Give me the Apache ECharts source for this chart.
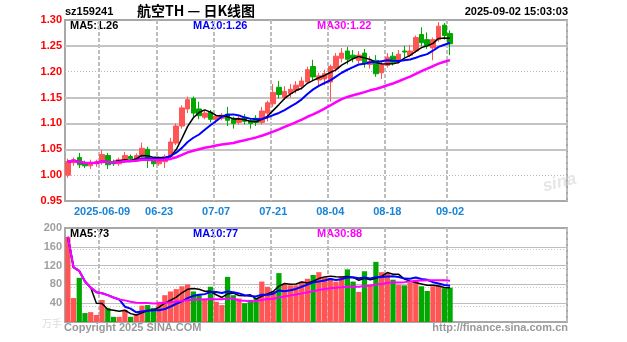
<!DOCTYPE html>
<html>
<head>
<meta charset="utf-8">
<script src="https://cdn.jsdelivr.net/npm/echarts@6/dist/echarts.min.js"></script>
<style>
html,body{margin:0;padding:0;background:#fff;}
#chart{width:627px;height:342px;}
</style>
</head>
<body>
<div id="chart"></div>
<script>
// Daily K-line of sz159241 with volume panel
const dates = ['2025-05-29','2025-05-30','2025-06-03','2025-06-04','2025-06-05','2025-06-06','2025-06-09','2025-06-10','2025-06-11','2025-06-12','2025-06-13','2025-06-16','2025-06-17','2025-06-18','2025-06-19','2025-06-20','2025-06-23','2025-06-24','2025-06-25','2025-06-26','2025-06-27','2025-06-30','2025-07-01','2025-07-02','2025-07-03','2025-07-04','2025-07-07','2025-07-08','2025-07-09','2025-07-10','2025-07-11','2025-07-14','2025-07-15','2025-07-16','2025-07-17','2025-07-18','2025-07-21','2025-07-22','2025-07-23','2025-07-24','2025-07-25','2025-07-28','2025-07-29','2025-07-30','2025-07-31','2025-08-01','2025-08-04','2025-08-05','2025-08-06','2025-08-07','2025-08-08','2025-08-11','2025-08-12','2025-08-13','2025-08-14','2025-08-15','2025-08-18','2025-08-19','2025-08-20','2025-08-21','2025-08-22','2025-08-25','2025-08-26','2025-08-27','2025-08-28','2025-08-29','2025-09-01','2025-09-02'];

const opens = [1.000,1.024,1.034,1.024,1.018,1.022,1.024,1.038,1.026,1.022, 1.028,1.036,1.030,1.036,1.050,1.030,1.022,1.026,1.036,1.062, 1.095,1.128,1.148,1.128,1.112,1.122,1.108,1.110,1.118,1.110, 1.102,1.112,1.106,1.110,1.102,1.120,1.138,1.170,1.150,1.158, 1.164,1.172,1.180,1.210,1.184,1.186,1.180,1.206,1.226,1.240, 1.232,1.222,1.236,1.214,1.222,1.198,1.212,1.230,1.220,1.240, 1.232,1.240,1.272,1.262,1.246,1.262,1.290,1.274];
const closes = [1.026,1.030,1.020,1.018,1.024,1.026,1.040,1.020,1.022,1.030, 1.038,1.032,1.038,1.052,1.028,1.022,1.030,1.036,1.064,1.095, 1.130,1.146,1.120,1.115,1.120,1.108,1.114,1.116,1.106,1.100, 1.110,1.104,1.100,1.102,1.124,1.140,1.160,1.156,1.162,1.166, 1.174,1.182,1.204,1.190,1.192,1.196,1.210,1.230,1.236,1.224, 1.226,1.232,1.216,1.220,1.196,1.214,1.228,1.218,1.234,1.238, 1.240,1.266,1.256,1.250,1.262,1.288,1.270,1.254];
const lows = [0.995,1.018,1.014,1.014,1.012,1.016,1.020,1.012,1.018,1.018, 1.024,1.028,1.026,1.034,1.014,1.016,1.018,1.014,1.030,1.058, 1.090,1.120,1.112,1.108,1.108,1.102,1.100,1.106,1.095,1.090, 1.098,1.098,1.090,1.095,1.098,1.104,1.132,1.148,1.145,1.150, 1.158,1.165,1.176,1.182,1.170,1.174,1.142,1.200,1.218,1.214, 1.218,1.216,1.208,1.206,1.190,1.186,1.208,1.212,1.216,1.228, 1.228,1.236,1.250,1.244,1.222,1.258,1.262,1.232];
const highs = [1.032,1.034,1.043,1.028,1.030,1.030,1.049,1.043,1.030,1.034, 1.045,1.040,1.042,1.063,1.055,1.034,1.036,1.040,1.072,1.100, 1.135,1.152,1.152,1.142,1.126,1.126,1.118,1.120,1.132,1.113, 1.115,1.118,1.110,1.116,1.132,1.144,1.176,1.182,1.172,1.176, 1.182,1.190,1.210,1.223,1.198,1.204,1.214,1.236,1.246,1.248, 1.242,1.240,1.244,1.230,1.232,1.220,1.236,1.238,1.242,1.250, 1.252,1.270,1.286,1.276,1.266,1.296,1.294,1.280];
// volume, in 10k lots
const volumes = [181,51,94,19,21,15,47,30,11,11, 26,11,15,35,36,30,43,57,65,70, 76,80,65,57,50,75,43,36,96,57, 50,40,47,51,86,75,65,104, 80,78,78,86,92,100,106,96,94,86,96,112,86,64,108,80,128,106,104,90, 79,78,84,88,76,66,76,78,72,73];

const tickDates = ['2025-06-09','2025-06-23','2025-07-07','2025-07-21','2025-08-04','2025-08-18','2025-09-02'];
const priceTicks = [0.95,1.00,1.05,1.10,1.15,1.20,1.25,1.30];
const dottedPriceLevels = [1.00,1.20];
const volumeTicks = [40,80,120,160,200];
const blankSlots = 20;

const RED = '#ff5555', GREEN = '#00a800';
const FONT = 'Liberation Sans, Arial, sans-serif';

function movingAvg(arr, n) {
  return arr.map((_, i) => {
    const s = Math.max(0, i - n + 1);
    let sum = 0;
    for (let k = s; k <= i; k++) sum += arr[k];
    return sum / (i - s + 1);
  });
}

const categories = dates.concat(Array.from({length: blankSlots}, (_, k) => 'slot' + k));
const kData = dates.map((d, i) => [opens[i], closes[i], lows[i], highs[i]]);
const ma5 = movingAvg(closes, 5), ma10 = movingAvg(closes, 10), ma30 = movingAvg(closes, 30);
const vma5 = movingAvg(volumes, 5), vma10 = movingAvg(volumes, 10), vma30 = movingAvg(volumes, 30);
const last = dates.length - 1;
const volData = volumes.map((v, i) => ({
  value: v,
  itemStyle: {color: closes[i] >= opens[i] ? RED : GREEN}
}));

const isTick = (idx, val) => tickDates.indexOf(val) >= 0;

const priceLines = priceTicks.slice(1, -1).map(p => ({
  yAxis: p,
  lineStyle: dottedPriceLevels.indexOf(p) >= 0
    ? {type: [1, 2], color: '#b8b8b8', width: 1}
    : {type: 'solid', color: '#c4c4c4', width: 2}
}));
const volLines = [];
volumeTicks.slice(0, -1).forEach(v => {
  volLines.push({yAxis: v, lineStyle: {type: 'solid', color: '#bdbdbd', width: 1}});
  volLines.push({yAxis: v - 6, lineStyle: {type: [1, 2], color: '#c8c8c8', width: 1}});
});

function maLine(name, data, color, width, xi, yi) {
  return {
    name, type: 'line', data, xAxisIndex: xi, yAxisIndex: yi,
    symbol: 'none', smooth: false, silent: true,
    lineStyle: {color, width}, z: 5
  };
}

function txt(x, y, text, color, size, align, weight) {
  return {
    type: 'text', x, y, silent: true,
    style: {text, fill: color, font: (weight || 'bold') + ' ' + size + 'px ' + FONT,
            textAlign: align || 'left', textVerticalAlign: 'middle'}
  };
}

const chart = echarts.init(document.getElementById('chart'), null, {renderer: 'canvas'});
chart.setOption({
  animation: false,
  backgroundColor: '#fff',
  grid: [
    {left: 65, right: 60, top: 20, height: 181, show: true, borderColor: '#a8a8a8', borderWidth: 2, backgroundColor: 'transparent'},
    {left: 65, right: 60, top: 228, height: 94, show: true, borderColor: '#a8a8a8', borderWidth: 2, backgroundColor: 'transparent'}
  ],
  xAxis: [
    {type: 'category', gridIndex: 0, data: categories, boundaryGap: true,
     axisLine: {show: false}, axisTick: {show: false},
     axisLabel: {interval: isTick, color: '#1a84d6', fontFamily: FONT, fontWeight: 'bold', fontSize: 11, margin: 5,
                 formatter: v => v === tickDates[0] ? v : v.slice(5)},
     splitLine: {show: true, interval: isTick, lineStyle: {color: '#bdbdbd', width: 2, type: [4, 2]}}},
    {type: 'category', gridIndex: 1, data: categories, boundaryGap: true,
     axisLine: {show: false}, axisTick: {show: false}, axisLabel: {show: false},
     splitLine: {show: true, interval: isTick, lineStyle: {color: '#bdbdbd', width: 2, type: [4, 2]}}}
  ],
  yAxis: [
    {type: 'value', gridIndex: 0, min: priceTicks[0], max: priceTicks[priceTicks.length - 1], interval: 0.05,
     axisLine: {show: false}, axisTick: {show: false}, splitLine: {show: false},
     axisLabel: {color: '#ff0000', fontFamily: FONT, fontWeight: 'bold', fontSize: 11, margin: 3,
                 formatter: v => v.toFixed(2)}},
    {type: 'value', gridIndex: 1, min: 0, max: volumeTicks[volumeTicks.length - 1], interval: 40,
     axisLine: {show: false}, axisTick: {show: false}, splitLine: {show: false},
     axisLabel: {color: '#a0a0a0', fontFamily: FONT, fontWeight: 'bold', fontSize: 11, margin: 3,
                 formatter: v => v === 0 ? '' : String(v)}}
  ],
  series: [
    {type: 'candlestick', xAxisIndex: 0, yAxisIndex: 0, data: kData, barWidth: 5,
     itemStyle: {color: RED, color0: GREEN, borderColor: RED, borderColor0: GREEN, borderWidth: 1},
     markLine: {silent: true, symbol: 'none', label: {show: false}, data: priceLines, z: 1},
     z: 3},
    maLine('MA5', ma5, '#000000', 1.5, 0, 0),
    maLine('MA10', ma10, '#0000ff', 2, 0, 0),
    maLine('MA30', ma30, '#ff00ff', 2.5, 0, 0),
    {type: 'bar', xAxisIndex: 1, yAxisIndex: 1, data: volData, barCategoryGap: '8%',
     markLine: {silent: true, symbol: 'none', label: {show: false}, data: volLines, z: 1},
     z: 3},
    maLine('VMA5', vma5, '#000000', 1.5, 1, 1),
    maLine('VMA10', vma10, '#0000ff', 2, 1, 1),
    maLine('VMA30', vma30, '#ff00ff', 2, 1, 1)
  ],
  graphic: [
    txt(65, 12, 'sz159241', '#000', 11),
    {type: 'text', x: 196, y: 11, silent: true,
     style: {text: '航空TH — 日K线图', fill: '#000', font: 'bold 14px "Noto Sans CJK SC", sans-serif',
             textAlign: 'center', textVerticalAlign: 'middle'}},
    txt(568, 12, '2025-09-02 15:03:03', '#000', 11, 'right'),
    txt(70, 26, 'MA5:' + ma5[last].toFixed(2), '#000', 11),
    txt(193, 26, 'MA10:' + ma10[last].toFixed(2), '#0000ff', 11),
    txt(317, 26, 'MA30:' + ma30[last].toFixed(2), '#ff00ff', 11),
    txt(70, 234, 'MA5:' + vma5[last].toFixed(0), '#000', 11),
    txt(193, 234, 'MA10:' + vma10[last].toFixed(0), '#0000ff', 11),
    txt(317, 234, 'MA30:' + vma30[last].toFixed(0), '#ff00ff', 11),
    {type: 'text', x: 62, y: 323, silent: true,
     style: {text: '万手', fill: '#dcdcdc', font: '10px "Noto Sans CJK SC", sans-serif',
             textAlign: 'right', textVerticalAlign: 'middle'}},
    txt(64, 328, 'Copyright 2025 SINA.COM', '#999', 11),
    txt(568, 328, 'http://finance.sina.com.cn', '#999', 11, 'right'),
    {type: 'text', x: 543, y: 187, rotation: 0.25, silent: true,
     style: {text: 'sina', fill: '#e6e6e6', font: 'italic bold 17px ' + FONT,
             textAlign: 'left', textVerticalAlign: 'middle'}}
  ]
});
</script>
</body>
</html>
